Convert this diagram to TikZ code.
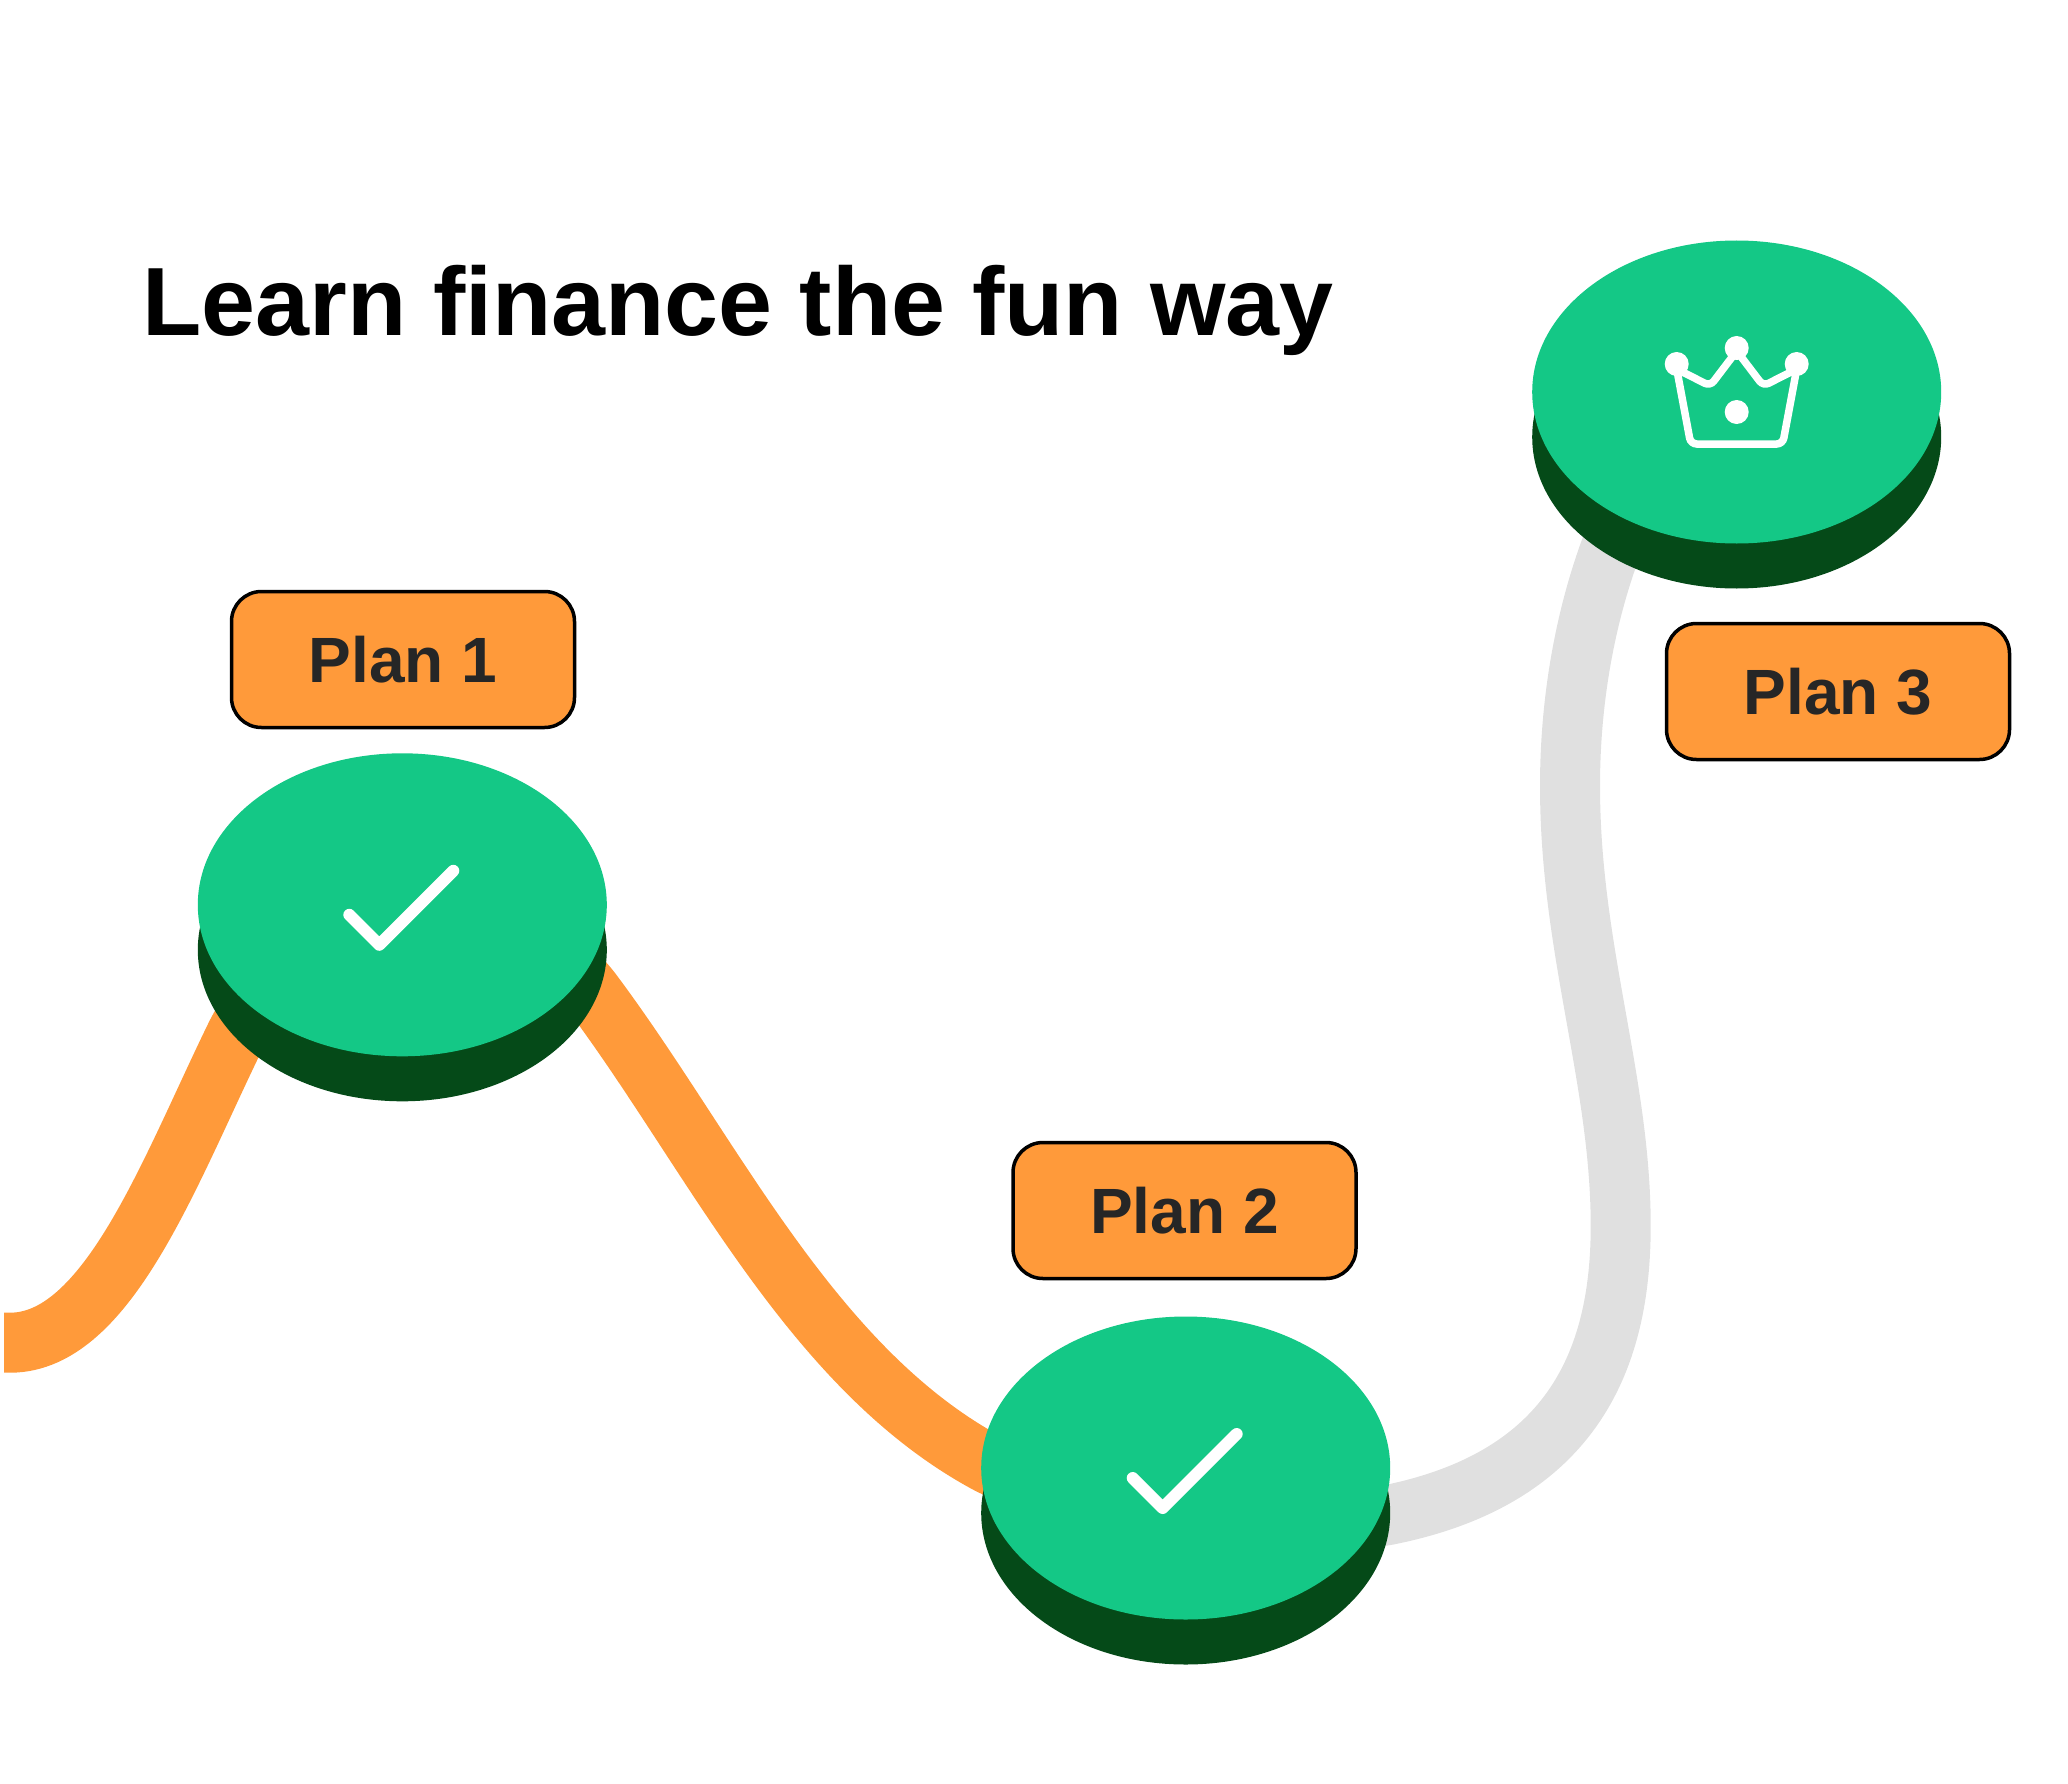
\documentclass[tikz,border=0pt]{standalone}
\usepackage{fontspec}
\setmainfont{Liberation Sans}
\usetikzlibrary{shapes.geometric}
\definecolor{discgreen}{HTML}{14C886}
\definecolor{discdark}{HTML}{054A18}
\definecolor{pathorange}{HTML}{FF9A3A}
\definecolor{pathgrey}{HTML}{E0E0E0}
\definecolor{labeltext}{HTML}{262626}
\tikzset{
  disctop/.style={shape=ellipse,fill=discgreen,minimum width=409pt,minimum height=303pt,inner sep=0pt},
  discbase/.style={shape=ellipse,fill=discdark,minimum width=409pt,minimum height=303pt,inner sep=0pt},
  planlabel/.style={draw=black,line width=3.5pt,fill=pathorange,rounded corners=30pt,minimum width=343pt,minimum height=136pt,inner sep=0pt,text=labeltext,font=\fontsize{64}{70}\selectfont\bfseries},
  doneroad/.style={draw=pathorange,line width=60pt},
  openroad/.style={draw=pathgrey,line width=60pt},
  tickline/.style={draw=white,line width=12pt,line cap=round,line join=round},
  crownline/.style={draw=white,line width=7.5pt,rounded corners=6pt}
}
\begin{document}
\begin{tikzpicture}[x=1pt,y=-1pt]
\useasboundingbox (0,0) rectangle (2068,1784);
\coordinate (roadstart) at (4,1342.7);
\coordinate (plan1) at (402.3,904.8);
\coordinate (plan2) at (1185.7,1468);
\coordinate (plan3) at (1736.7,392);
\draw[doneroad](roadstart)--(10,1342.7)..controls (108,1342.7) and (170,1170)..(236,1035)
..controls (270,968) and (340,905)..(plan1)
..controls (470,905) and (550,935)..(594,995)
..controls (713,1155) and (810,1366)..(985,1462)
..controls (1030,1487) and (1120,1500)..(plan2);
\draw[openroad](plan2)..controls (1250,1530) and (1320,1527)..(1388,1515)
..controls (1568,1479) and (1620.7,1365)..(1620.7,1226)
..controls (1620.7,1080) and (1570,950)..(1570,786)
..controls (1570,700) and (1585,620)..(1609,553)
..controls (1632,490) and (1680,430)..(plan3);
\node[discbase] (plan1base) at (402.3,949.8){};
\node[discbase] (plan2base) at (1185.7,1513){};
\node[discbase] (plan3base) at (1736.7,437){};
\node[disctop] (plan1top) at (plan1){};
\node[disctop] (plan2top) at (plan2){};
\node[disctop] (plan3top) at (plan3){};
\node[planlabel] (plan1box) at (403,659.5){Plan 1};
\node[planlabel] (plan2box) at (1184.5,1210.5){Plan 2};
\node[planlabel] (plan3box) at (1838,691.5){Plan 3};
\foreach \c in {plan1,plan2}{
\draw[tickline,shift={(\c)}](-53,10)--(-23,40)--(51,-34);
}
\draw[crownline,shift={(plan3)}](-60,-23)--(-46,52)--(46,52)--(60,-23)--(26.6,-6)--(0,-41)--(-26.6,-6)--cycle;
\fill[white,shift={(plan3)}](-60,-28)circle[radius=12]
(0,-44)circle[radius=12]
(60,-28)circle[radius=12]
(0,20)circle[radius=12];
\node[anchor=base west,inner sep=0pt,font=\fontsize{97}{110}\selectfont\bfseries] (title) at (142,336){Learn finance the fun way};
\end{tikzpicture}
\end{document}
